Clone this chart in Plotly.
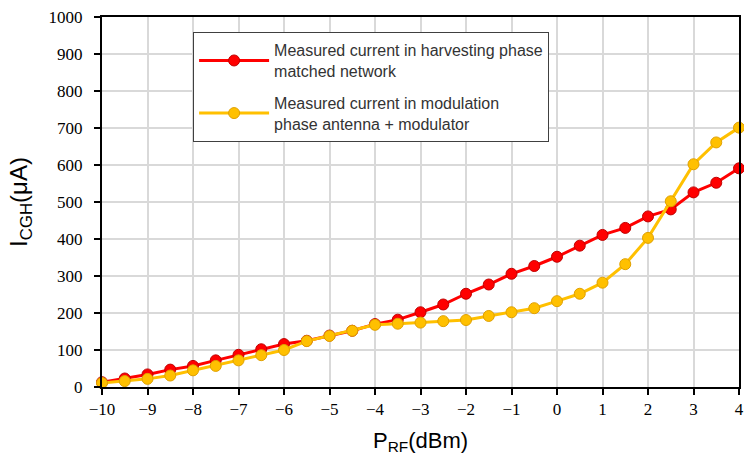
import plotly.graph_objects as go

p_rf = [-10, -9.5, -9, -8.5, -8, -7.5, -7, -6.5, -6, -5.5, -5, -4.5, -4, -3.5, -3,
        -2.5, -2, -1.5, -1, -0.5, 0, 0.5, 1, 1.5, 2, 2.5, 3, 3.5, 4]
harvesting = [13, 23, 34, 47, 57, 72, 87, 102, 116, 125, 139, 152, 170, 182, 202,
              223, 252, 277, 306, 327, 352, 382, 411, 430, 461, 480, 526, 552, 591]
modulation = [11, 16, 22, 31, 45, 57, 72, 86, 100, 124, 138, 152, 168, 171, 174,
              178, 181, 192, 202, 213, 232, 252, 282, 332, 403, 502, 602, 661, 701]

name_h = "Measured current in harvesting phase<br>matched network"
name_m = "Measured current in modulation<br>phase antenna + modulator"

fig = go.Figure()
fig.add_trace(go.Scatter(
    x=p_rf, y=harvesting, name=name_h, mode="lines+markers", legendgroup="h",
    line=dict(color="#ff0000", width=3),
    marker=dict(size=11, color="#ff0000", line=dict(color="#c00000", width=1)),
    cliponaxis=False))
fig.add_trace(go.Scatter(
    x=p_rf, y=modulation, name=name_m, mode="lines+markers", legendgroup="m",
    line=dict(color="#ffc000", width=3),
    marker=dict(size=11, color="#ffc000", line=dict(color="#e0a000", width=1)),
    cliponaxis=False))

serif = "Liberation Serif, DejaVu Serif, serif"
sans = "Liberation Sans, Arial, sans-serif"
tickfont = dict(family=serif, size=17, color="black")
fig.update_layout(
    width=744, height=468,
    margin=dict(l=102, r=5, t=17, b=81, autoexpand=False),
    font=dict(family=serif, color="black"),
    plot_bgcolor="white", paper_bgcolor="white",
    legend=dict(x=0.143, y=0.959, xanchor="left", yanchor="top",
                bordercolor="#404040", borderwidth=1, bgcolor="white",
                font=dict(family=sans, size=16, color="#333333"),
                tracegroupgap=8, itemwidth=70),
    xaxis=dict(range=[-10, 4], dtick=1, tick0=-10, automargin=False,
               showgrid=True, gridcolor="#d9d9d9", gridwidth=1.5,
               showline=True, linecolor="black", linewidth=2, mirror=True,
               ticks="outside", ticklen=6, tickcolor="black", tickwidth=1.5,
               tickfont=tickfont, zeroline=False, ticklabeloverflow="allow",
               title=dict(text="P<sub>RF</sub>(dBm)", standoff=14,
                          font=dict(family=sans, size=22, color="black"))),
    yaxis=dict(range=[0, 1000], dtick=100, automargin=False,
               showgrid=True, gridcolor="#d9d9d9", gridwidth=1.5,
               showline=True, linecolor="black", linewidth=2, mirror=True,
               ticks="outside", ticklen=6, tickcolor="black", tickwidth=1.5,
               tickfont=tickfont, zeroline=False, ticklabelstandoff=8,
               ticklabeloverflow="allow",
               title=dict(text="I<sub>CGH</sub>(μA)", standoff=14,
                          font=dict(family=sans, size=24, color="black"))),
)
fig.write_html(
    "out.html",
    config={"displayModeBar": False},
    post_script=("document.body.style.margin='0';"
                 "document.body.style.overflow='hidden';"
                 "document.documentElement.style.overflow='hidden';"),
)
